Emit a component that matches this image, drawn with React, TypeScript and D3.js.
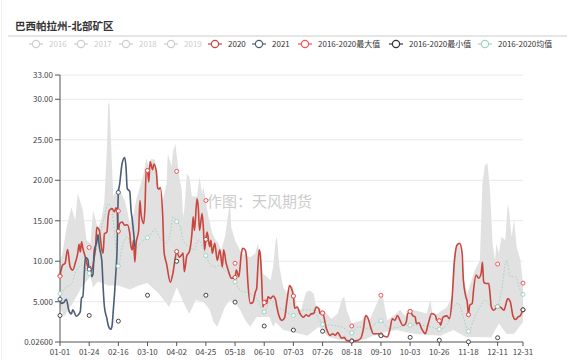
import React from "react";
import * as d3 from "d3";

type P = [number, number];

const xTickLabels = ["01-01","01-24","02-16","03-10","04-02","04-25","05-18","06-10","07-03","07-26","08-18","09-10","10-03","10-26","11-18","12-11","12-31"];
const xTickIdx = [0,23,46,69,92,115,138,161,184,207,230,253,276,299,322,345,365];
const yTicks = [0.026,5,10,15,20,25,30,33];
const yTickLabels = ["0.02600","5.000","10.00","15.00","20.00","25.00","30.00","33.00"];

const s2020: P[] = [[0,8.2],[2,9.5],[4,9.75],[6,11.45],[8,9.3],[10,8.9],[12,9.75],[14,11],[15,12.1],[16,11.15],[17,12.4],[18,11.6],[20,10.5],[22,9.3],[23,9.1],[25,8.9],[27,10.5],[28,11.6],[29,14.2],[31,13.8],[33,11.4],[34,11],[35,13.4],[37,13.6],[38,15.5],[39,16.3],[41,16.5],[43,16.1],[44,16.6],[45,16.2],[46,13.7],[47,14.65],[49,14.85],[51,14.45],[53,14.5],[55,13.4],[56,11.8],[57,11.4],[58,12.6],[59,9.9],[60,12.2],[62,13.8],[63,17.5],[64,15.7],[66,14.65],[67,16.7],[68,21.4],[69,21.2],[70,19.8],[71,22.3],[73,21.3],[74,22.0],[76,21.0],[77,19.0],[78,18.9],[79,19.1],[81,15.5],[82,11.2],[84,9.7],[87,7.4],[89,8.5],[91,10.5],[92,11.2],[94,10.5],[96,10.8],[97,11],[98,8.7],[100,10.7],[102,11.2],[104,13.4],[105,15.5],[106,13.8],[108,17.7],[109,16.7],[110,13.8],[112,15.9],[113,14.2],[114,11.4],[115,12.7],[116,13.6],[118,11.8],[119,12.6],[120,11],[122,12.2],[124,10.1],[126,11.4],[128,9.3],[129,11.4],[131,9.75],[133,8.7],[135,7.9],[138,8.0],[139,8.9],[141,8.1],[143,11],[144,11.6],[146,11.4],[147,10.5],[148,7.65],[150,4.8],[152,4.9],[154,6.2],[155,6.6],[156,9.3],[157,11.4],[158,10.7],[159,7.65],[160,4.35],[161,4.9],[162,5.2],[163,4.8],[164,5.6],[166,5.4],[168,5.7],[170,5.2],[171,4.35],[173,3.1],[175,2.7],[177,3.0],[179,5.2],[181,7.0],[182,6.8],[184,5.7],[185,4.2],[187,4.35],[189,3.6],[192,3.1],[194,3.4],[196,3.2],[198,3.5],[200,3.55],[202,4.35],[204,4.15],[205,3.55],[207,3.6],[210,1.7],[213,0.85],[215,1.05],[217,0.85],[219,1.2],[222,0.5],[224,0.6],[226,0.2],[230,0.15],[234,0.2],[237,0.45],[239,1.5],[241,3.3],[243,2.9],[245,1.8],[247,1.05],[251,1.05],[253,0.9],[258,0.65],[260,1.5],[262,2.9],[264,2.7],[266,3.3],[268,2.7],[270,2.1],[271,2.1],[273,2.5],[274,3.5],[276,3.8],[278,3.3],[280,3.1],[281,2.3],[283,2.4],[285,1.7],[288,1.05],[290,2.1],[293,3.55],[296,3.3],[297,2.7],[299,2.65],[300,2.1],[302,3.1],[305,3.25],[307,2.9],[309,5.2],[311,10.1],[313,12],[315,12.2],[317,11],[318,7.65],[320,5.6],[321,5.0],[322,3.4],[323,4.55],[325,4.8],[326,6.4],[328,8.3],[330,7.9],[332,8.5],[333,9.9],[334,7.45],[336,7.25],[338,7.25],[339,6.0],[340,4.35],[342,3.95],[345,4.4],[347,4.35],[350,3.95],[352,5.0],[353,5.4],[355,5.0],[357,3.3],[359,2.8],[361,3.1],[363,3.3],[365,4.0]];

const s2021: P[] = [[0,5.3],[1,4.8],[3,4.9],[5,5.3],[7,3.9],[9,3.5],[10,4.0],[13,3.2],[15,3.5],[16,3.8],[17,5.5],[18,5.6],[19,8.0],[20,10.5],[22,10.2],[23,9.0],[24,9.3],[25,8.1],[26,8.4],[27,11.3],[29,12.4],[30,13.3],[31,11.8],[33,10.0],[34,6.8],[35,4.4],[37,2.9],[38,2.1],[40,1.6],[41,2.0],[42,3.9],[43,6.0],[44,8.5],[45,11.5],[46,18.5],[47,19.5],[49,22.1],[51,22.8],[52,21.7],[53,19.0],[55,18.6],[56,16.3],[57,15.1],[58,13.6],[59,11.8]];

const bandUpper: P[] = [[0,10.1],[2,11],[5,14],[9,16.7],[12,15],[14,18.4],[18,16.3],[21,12.6],[24,12.2],[26,16.3],[30,14],[33,15.5],[35,17.5],[37,24],[38,29.5],[39,29.5],[41,21.7],[42,18],[46,19.2],[51,17.5],[53,16.3],[55,14.65],[58,15.9],[60,17.5],[63,19.2],[66,20.8],[68,22.7],[70,21.7],[72,22.7],[75,22.5],[77,20],[79,18.4],[81,17.5],[84,19.6],[85,23.3],[88,21.7],[89,23.5],[91,24.5],[92,23.1],[94,20.4],[96,18.8],[97,15.5],[98,16.3],[100,20.8],[102,20.4],[104,18],[105,18],[108,18],[110,20.4],[112,18.4],[113,19.2],[117,15.5],[120,13.5],[122,12.8],[125,12.2],[127,11.4],[130,13],[133,16.3],[134,17.5],[135,14.2],[138,12.6],[143,11],[150,10.5],[154,11],[156,12.2],[160,8.5],[166,7.65],[168,9.3],[170,12.6],[171,13],[173,9.3],[176,6.8],[179,6],[183,7],[187,4.35],[190,4],[194,6.2],[197,6.4],[200,6],[202,4.35],[209,3.75],[214,2.9],[219,3.55],[222,5.2],[224,5.6],[226,4],[230,2.3],[238,2.7],[240,3.3],[244,2.7],[251,5.2],[254,6],[258,2.7],[265,3.55],[268,4],[273,3.1],[278,4],[289,3.55],[292,5.2],[294,3.1],[305,4.35],[309,5.6],[310,10.1],[313,12.2],[315,12],[318,8.1],[321,6],[327,8.9],[331,10.1],[333,19.6],[335,21.9],[337,22.1],[339,18.8],[341,12.2],[343,10.1],[344,12.2],[346,11],[348,13],[351,12.6],[353,17.1],[354,16.3],[356,13],[358,15.1],[360,11.8],[363,10.1],[365,7.25]];

const bandLower: P[] = [[0,4.35],[3,3.1],[10,4.8],[17,6.8],[24,8.1],[26,6.8],[30,7.5],[38,7],[46,7],[55,6.5],[62,7],[69,7.3],[78,6],[86,4.35],[92,6.8],[99,4.35],[102,3.5],[107,5.2],[113,5],[118,4],[121,2.5],[124,1.9],[130,4.35],[134,5.2],[138,4.8],[142,4],[146,2.7],[150,1.9],[155,3.1],[165,3.1],[168,1.9],[170,2.5],[176,1.5],[185,1.2],[195,0.8],[204,1.9],[212,0.65],[220,0.3],[240,0.3],[250,1.05],[265,1.5],[280,1.0],[300,0.8],[310,1.5],[320,0.65],[340,0.6],[346,2.3],[352,1.0],[358,1.05],[365,2.5]];

const sMean: P[] = [[0,6.0],[5,6.8],[9,7.25],[13,8.9],[17,9.5],[21,8.7],[23,8.5],[29,11.8],[35,15.5],[38,17.1],[41,16.3],[43,13.4],[46,9.4],[49,11.8],[53,13],[56,11.8],[59,11.4],[63,12.2],[66,12.6],[69,12.9],[72,13.4],[75,14],[77,13.4],[80,12.6],[83,12.2],[87,13.4],[89,15.5],[92,14.9],[95,14.2],[97,12.6],[102,11.8],[106,11.4],[109,12.6],[115,10.7],[118,9.7],[122,9.3],[126,9.5],[130,8.9],[138,7.45],[142,6.4],[150,6],[155,5.4],[161,3.75],[166,5.2],[171,4.35],[176,4],[184,3.3],[193,4],[199,4],[204,2.9],[207,2.2],[214,2.1],[222,1.9],[230,1.15],[235,1.9],[243,1.7],[253,2.65],[259,1.7],[268,1.9],[276,2.1],[284,2.1],[292,1.9],[299,1.6],[305,2.1],[310,4.35],[314,4.8],[318,3.1],[322,1.35],[327,3.1],[331,4.35],[335,5.2],[339,4.55],[345,4.4],[348,6.4],[352,10.1],[355,8.1],[359,8.1],[363,6.4],[365,5.9]];

const maxMarks = [8.15,11.7,16.2,21.2,21.1,17.5,9.75,4.9,5.7,3.6,2.0,5.8,3.8,2.65,3.4,9.65,7.3];
const minMarks = [3.3,3.3,2.6,5.8,10.0,5.8,4.95,2.0,1.5,1.35,0.15,0.8,0.6,0.25,0.05,0.55,4.0];

const legendNames = ["2016","2017","2018","2019","2020","2021","2016-2020最大值","2016-2020最小值","2016-2020均值"];
const legendColors = ["#ccc","#ccc","#ccc","#ccc","#c9453e","#4b5e76","#f25555","#333","#9fd4bf"];
const legendIconX = [36,81,126,171,215,259,305,396,485];

const FONT = "'Noto Sans CJK SC', 'Microsoft YaHei', sans-serif";
const C2020 = "#c9453e";
const C2021 = "#4b5e76";
const CMAX = "#f25555";
const CMIN = "#444";
const CMEAN = "#9fd4bf";

export default function App() {
  const W = 583, H = 360;
  const x = d3.scaleLinear().domain([0, 365]).range([60, 523]);
  const y = d3.scaleLinear().domain([0.026, 33]).range([342, 75]);

  const line = d3.line<P>().x(d => x(d[0])).y(d => y(d[1])).curve(d3.curveMonotoneX);
  const bandPath = d3.line<P>().x(d => x(d[0])).y(d => y(d[1])).curve(d3.curveLinearClosed)([...bandUpper, ...bandLower.slice().reverse()]) || "";

  const valAt = (s: P[], i: number) => {
    const f = s.find(d => d[0] === i);
    return f ? f[1] : null;
  };

  const marks = (s: P[], color: string, key: string) =>
    xTickIdx.map((i, k) => {
      const v = valAt(s, i);
      if (v === null) return null;
      return <circle key={key + k} cx={x(i)} cy={y(v)} r={2} fill="#fff" stroke={color} strokeWidth={1} />;
    });

  return (
    <svg width={W} height={H} style={{ position: "absolute", left: 0, top: 0, background: "#fff" }} fontFamily={FONT}>
      <rect x={0} y={0} width={W} height={H} fill="#fff" />
      <line x1={1.5} x2={1.5} y1={0} y2={H} stroke="#eee" />
      {/* title */}
      <text x={15} y={30} fontSize={10.5} fontWeight="bold" fill="#333">巴西帕拉州-北部矿区</text>
      <line x1={8} x2={567} y1={36} y2={36} stroke="#ccc" strokeWidth={1} />
      {/* legend */}
      {legendNames.map((n, i) => (
        <g key={n}>
          <line x1={legendIconX[i] - 7} x2={legendIconX[i] + 7} y1={44} y2={44} stroke={legendColors[i]} strokeWidth={1.2} />
          <circle cx={legendIconX[i]} cy={44} r={3.6} fill="#fff" stroke={legendColors[i]} strokeWidth={1.2} />
          <text x={legendIconX[i] + 13} y={47} fontSize={8} fill={i < 4 ? "#ccc" : "#333"}>{n}</text>
        </g>
      ))}
      {/* grid */}
      {yTicks.map((t, i) => (
        <g key={"y" + i}>
          {i > 0 && <line x1={60} x2={523} y1={y(t)} y2={y(t)} stroke="#e8e8e8" strokeWidth={1} />}
          <line x1={55} x2={60} y1={y(t)} y2={y(t)} stroke="#555" />
          <text x={53} y={y(t) + 3} fontSize={8} textAnchor="end" fill="#444">{yTickLabels[i]}</text>
        </g>
      ))}
      {/* band */}
      <path d={bandPath} fill="#e1e1e1" stroke="none" />
      {/* mean */}
      <path d={line(sMean) || ""} fill="none" stroke={CMEAN} strokeWidth={1} strokeDasharray="1.5 1.8" />
      {/* 2020 */}
      <path d={line(s2020) || ""} fill="none" stroke={C2020} strokeWidth={1.6} />
      {/* 2021 */}
      <path d={line(s2021) || ""} fill="none" stroke={C2021} strokeWidth={1.6} />
      {/* watermark */}
      <text x={207} y={207} fontSize={15} fill="#c4c4c4" opacity={0.85}>作图：天风期货</text>
      {/* axes */}
      <line x1={60} x2={60} y1={75} y2={342} stroke="#555" />
      <line x1={60} x2={523} y1={342} y2={342} stroke="#555" />
      {xTickIdx.map((i, k) => (
        <g key={"x" + k}>
          <line x1={x(i)} x2={x(i)} y1={342} y2={346} stroke="#555" />
          <text x={x(i)} y={355} fontSize={8} textAnchor="middle" fill="#444">{xTickLabels[k]}</text>
        </g>
      ))}
      {/* symbols */}
      {marks(s2020, C2020, "a")}
      {marks(s2021, C2021, "b")}
      {xTickIdx.map((i, k) => (
        <circle key={"mx" + k} cx={x(i)} cy={y(maxMarks[k])} r={2} fill="#fff" stroke={CMAX} strokeWidth={1} />
      ))}
      {xTickIdx.map((i, k) => (
        <circle key={"mn" + k} cx={x(i)} cy={y(minMarks[k])} r={2} fill="#fff" stroke={CMIN} strokeWidth={1} />
      ))}
      {marks(sMean, CMEAN, "c")}
    </svg>
  );
}
